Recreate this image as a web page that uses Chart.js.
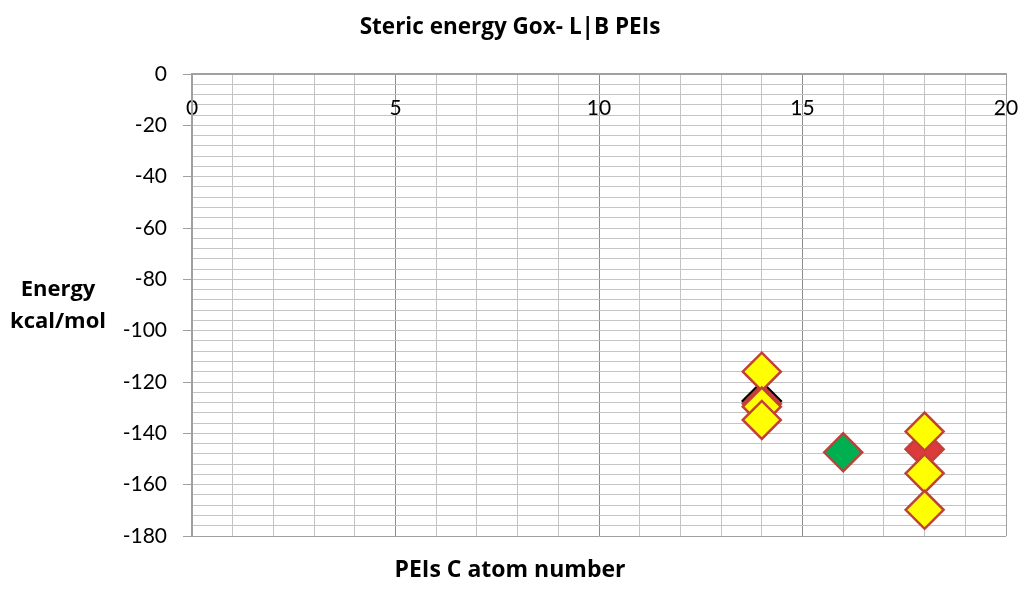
<!DOCTYPE html>
<html>
<head>
<meta charset="utf-8">
<title>Steric energy Gox- L|B PEIs</title>
<script src="https://cdn.jsdelivr.net/npm/chart.js@4.4.1/dist/chart.umd.min.js"></script>
<style>
    html, body { margin: 0; padding: 0; background: #fff; }
    #wrap { width: 1024px; height: 590px; }
</style>
</head>
<body>
<div id="wrap"><canvas id="energyChart" width="1024" height="590"></canvas></div>
<script>
// values
const chartTitle = "Steric energy Gox- L|B PEIs";
const xTitle = "PEIs C atom number";
const yTitleLines = ["Energy", "kcal/mol"];

const xYellow = [14, 14, 14, 18, 18, 18];
const yYellow = [-116, -129.6, -134.8, -139.3, -155.6, -169.8];
const xRed = [14, 18];
const yRed = [-128.5, -146.2];
const xBlack = [14];
const yBlack = [-127.4];
const xGreen = [16];
const yGreen = [-147.4];

const xMin = 0, xMax = 20, xStep = 1, xLabelEvery = 5;
const yMin = -180, yMax = 0, yStep = 4, yLabelEvery = 20;

const FONT = "Lato, 'Open Sans', 'DejaVu Sans', sans-serif";
const TITLE_FONT = "'Open Sans', Lato, 'DejaVu Sans', sans-serif";

function toPoints(xs, ys) {
    return xs.map((x, i) => ({ x: x, y: ys[i] }));
}

// horizontal y-axis title at the left, like the original sheet chart
const yTitlePlugin = {
    id: 'yTitle',
    afterDraw(chart) {
        const ctx = chart.ctx;
        ctx.save();
        ctx.font = "bold 22px " + TITLE_FONT;
        ctx.fillStyle = '#000';
        ctx.textAlign = 'center';
        ctx.textBaseline = 'middle';
        ctx.fillText(yTitleLines[0], 58, 290);
        ctx.fillText(yTitleLines[1], 58, 322);
        ctx.restore();
    }
};

function diamondSet(label, xs, ys, fill, border, order) {
    return {
        label: label,
        data: toPoints(xs, ys),
        pointStyle: 'rectRot',
        pointRadius: 19,
        pointBorderWidth: 2.5,
        backgroundColor: fill,
        borderColor: border,
        order: order
    };
}

new Chart(document.getElementById('energyChart'), {
    type: 'scatter',
    data: {
        datasets: [
            diamondSet('L', xYellow, yYellow, '#ffff00', '#c23f3a', 0),
            diamondSet('G', xGreen, yGreen, '#00b050', '#c23f3a', 1),
            diamondSet('B', xRed, yRed, '#dd3b3b', '#c23f3a', 2),
            diamondSet('K', xBlack, yBlack, '#000000', '#000000', 3)
        ]
    },
    options: {
        responsive: false,
        animation: false,
        events: [],
        devicePixelRatio: 1,
        layout: { autoPadding: false, padding: { left: 14, right: 18, top: 0, bottom: 0 } },
        plugins: {
            legend: { display: false },
            tooltip: { enabled: false },
            title: {
                display: true,
                text: chartTitle,
                color: '#000',
                font: { family: TITLE_FONT, size: 22.5, weight: 'bold' },
                padding: { top: 14, bottom: 33 }
            },
            subtitle: {
                display: true,
                position: 'bottom',
                text: xTitle,
                color: '#000',
                font: { family: TITLE_FONT, size: 23, weight: 'bold' },
                padding: { top: 21, bottom: 5.4 }
            }
        },
        scales: {
            x: {
                type: 'linear',
                position: { y: 0 },
                min: xMin,
                max: xMax,
                afterFit: scale => { scale.paddingLeft = 0; scale.paddingRight = 0; },
                border: { display: true, color: '#a0a0a0', width: 2 },
                grid: {
                    drawTicks: true,
                    tickLength: 22,
                    tickColor: 'rgba(0,0,0,0)',
                    lineWidth: 1,
                    color: c => {
                        const v = Math.round(c.tick.value);
                        if (v === xMax) return '#a0a0a0';
                        if (v % xLabelEvery === 0) return '#8c8c8c';
                        return '#c4c4c4';
                    }
                },
                ticks: {
                    stepSize: xStep,
                    autoSkip: false,
                    maxRotation: 0,
                    padding: 0,
                    color: '#000',
                    font: { family: FONT, size: 21 },
                    callback: v => (Math.round(v) % xLabelEvery === 0 ? String(Math.round(v)) : '')
                }
            },
            y: {
                type: 'linear',
                position: 'left',
                min: yMin,
                max: yMax,
                afterFit: scale => { scale.width = 178; },
                border: { display: true, color: '#a0a0a0', width: 2 },
                grid: {
                    lineWidth: 1,
                    tickLength: 9,
                    color: c => {
                        const v = Math.round(c.tick.value);
                        return v === yMin ? '#a0a0a0' : '#c4c4c4';
                    },
                    tickColor: c => (Math.round(c.tick.value) % yLabelEvery === 0 ? '#a0a0a0' : 'rgba(0,0,0,0)')
                },
                ticks: {
                    stepSize: yStep,
                    autoSkip: false,
                    padding: 16,
                    color: '#000',
                    font: { family: FONT, size: 21 },
                    callback: v => (Math.round(v) % yLabelEvery === 0 ? String(Math.round(v)) : '')
                }
            }
        }
    },
    plugins: [yTitlePlugin]
});
</script>
</body>
</html>
